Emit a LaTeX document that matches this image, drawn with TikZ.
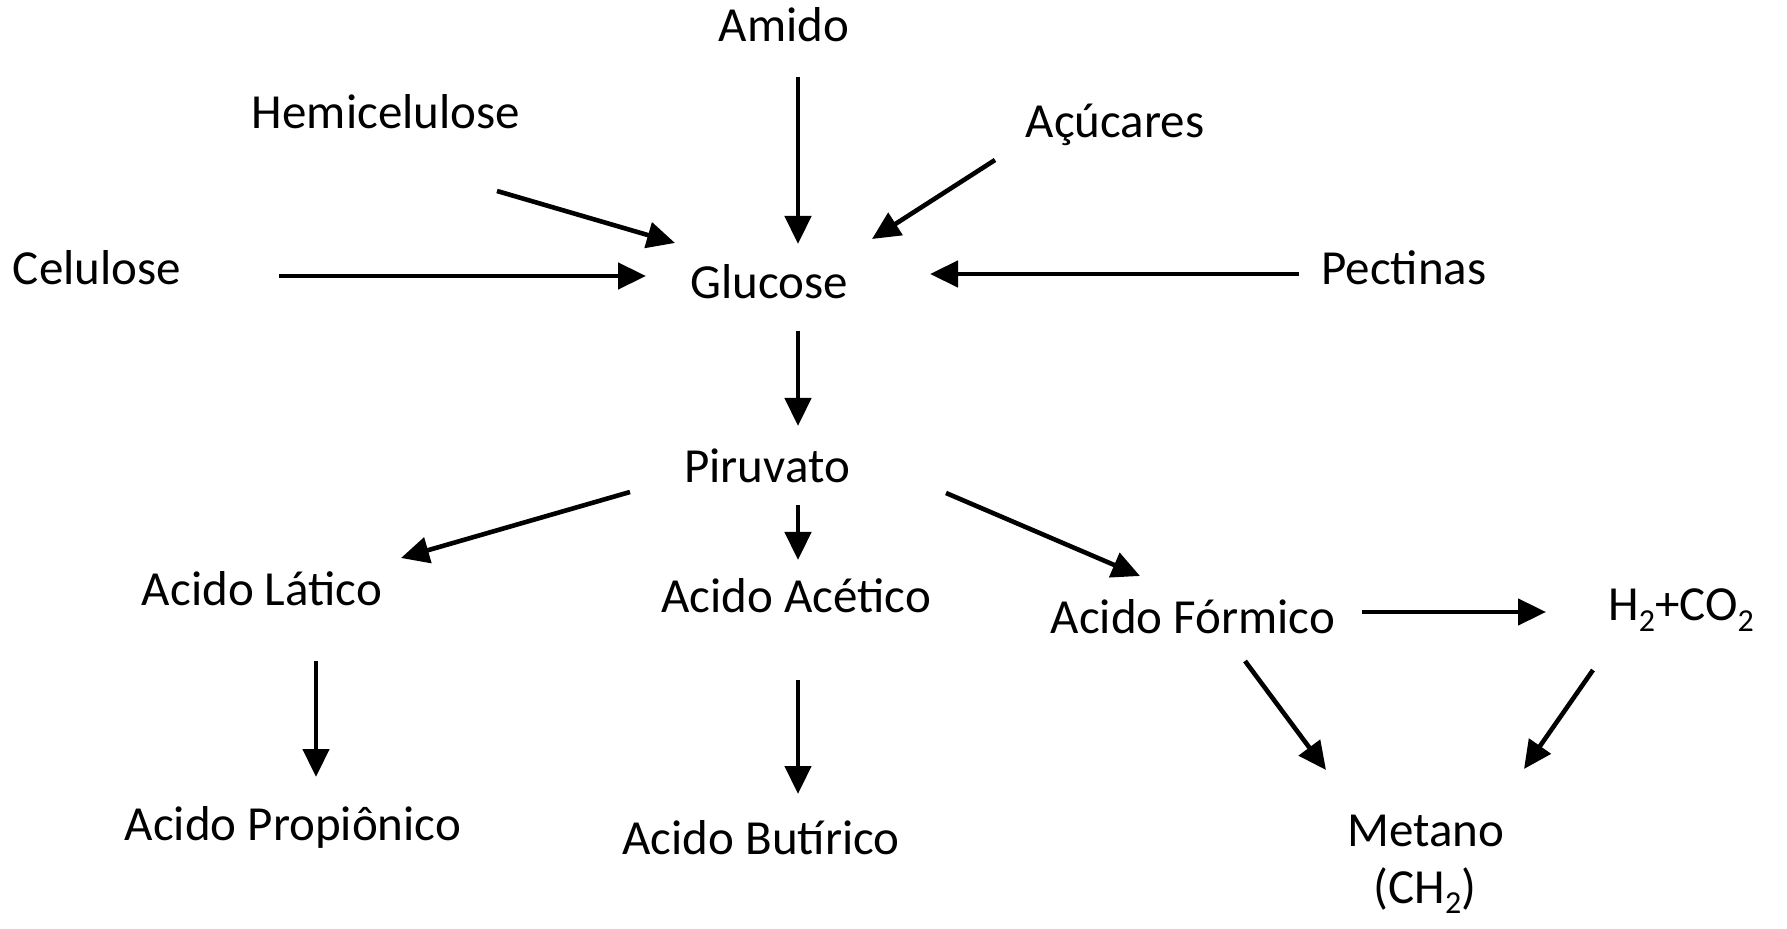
\documentclass[tikz,border=0pt]{standalone}
\usepackage{fontspec}
\setmainfont{Carlito}
\usetikzlibrary{arrows.meta}
\newcommand\lowsub[1]{\raisebox{-0.45ex}{\fontsize{16}{16}\selectfont #1}}
\begin{document}
\begin{tikzpicture}[x=0.5pt,y=-0.5pt,
  lbl/.style={anchor=base,inner sep=0pt,font=\fontsize{24.5}{29}\selectfont},
  arr/.style={line width=2.3pt,-{Triangle[length=14pt,width=13pt]}}]
\useasboundingbox[fill=white] (0,0) rectangle (1787,929);
% nodes
\node[lbl] (amido) at (784,42) {Amido};
\node[lbl] (hemi) at (386,129) {Hemicelulose};
\node[lbl] (acuc) at (1115,138) {Açúcares};
\node[lbl] (celu) at (97,285) {Celulose};
\node[lbl] (gluc) at (769,299) {Glucose};
\node[lbl] (pect) at (1404,285) {Pectinas};
\node[lbl] (piru) at (767,483) {Piruvato};
\node[lbl] (lati) at (262,606) {Acido Lático};
\node[lbl] (acet) at (796,613) {Acido Acético};
\node[lbl] (form) at (1193,633) {Acido Fórmico};
\node[lbl] (hco) at (1681,621) {H\lowsub{2}+CO\lowsub{2}};
\node[lbl] (prop) at (293,840) {Acido Propiônico};
\node[lbl] (buti) at (761,854) {Acido Butírico};
\node[lbl] (meta) at (1426,846) {Metano};
\node[lbl] (ch) at (1425,903) {(CH\lowsub{2})};
% connector end points
\coordinate (amidoS) at (798,77);   \coordinate (glucN) at (798,244);
\coordinate (hemiS) at (497,191);   \coordinate (glucNW) at (675,243);
\coordinate (acucS) at (995,160);   \coordinate (glucNE) at (872,239);
\coordinate (celuE) at (279,276);   \coordinate (glucW) at (646,276);
\coordinate (pectW) at (1299,274);  \coordinate (glucE) at (930,274);
\coordinate (glucS) at (798,331);   \coordinate (piruN) at (798,426);
\coordinate (piruW) at (630,492);   \coordinate (latiN) at (401,558);
\coordinate (piruS) at (798,505);   \coordinate (acetN) at (798,560);
\coordinate (piruE) at (946,493);   \coordinate (formN) at (1140,576);
\coordinate (formE) at (1362,612);  \coordinate (hcoW) at (1546,612);
\coordinate (latiS) at (316,661);   \coordinate (propN) at (316,777);
\coordinate (acetS) at (798,680);   \coordinate (butiN) at (798,794);
\coordinate (formS) at (1245,661);  \coordinate (metaNW) at (1326,770);
\coordinate (hcoS) at (1593,670);   \coordinate (metaNE) at (1524,769);
% connectors
\draw[arr] (amidoS) -- (glucN);
\draw[arr] (hemiS) -- (glucNW);
\draw[arr] (acucS) -- (glucNE);
\draw[arr] (celuE) -- (glucW);
\draw[arr] (pectW) -- (glucE);
\draw[arr] (glucS) -- (piruN);
\draw[arr] (piruW) -- (latiN);
\draw[arr] (piruS) -- (acetN);
\draw[arr] (piruE) -- (formN);
\draw[arr] (formE) -- (hcoW);
\draw[arr] (latiS) -- (propN);
\draw[arr] (acetS) -- (butiN);
\draw[arr] (formS) -- (metaNW);
\draw[arr] (hcoS) -- (metaNE);
\end{tikzpicture}
\end{document}
